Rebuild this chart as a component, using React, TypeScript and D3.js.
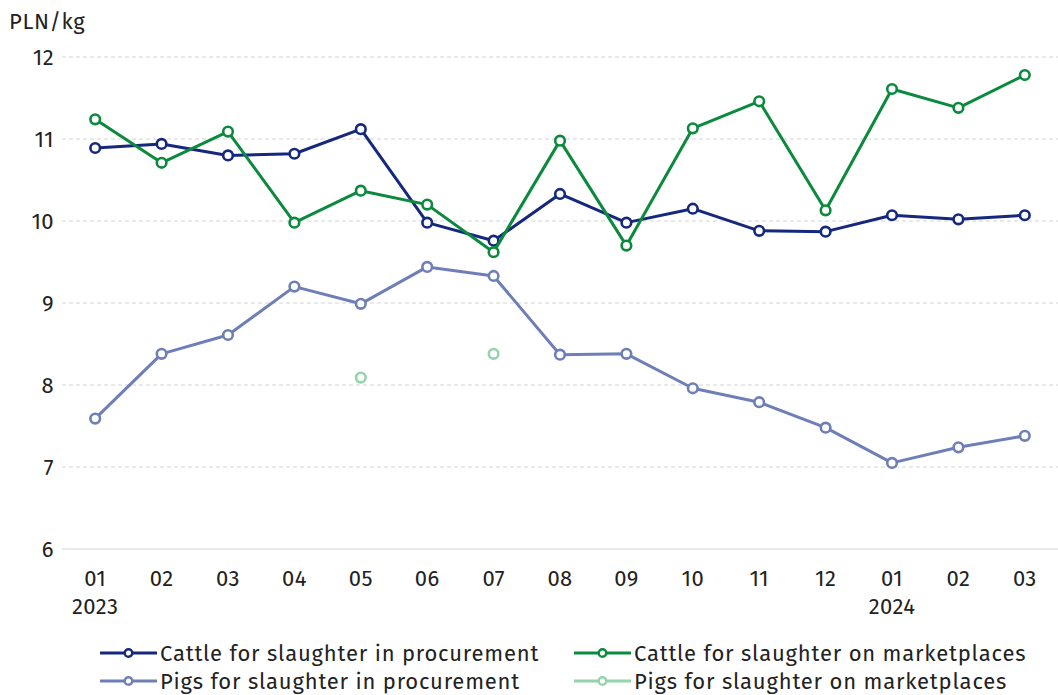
import * as d3 from "d3";

const months = ["01", "02", "03", "04", "05", "06", "07", "08", "09", "10", "11", "12", "01", "02", "03"];
const years = ["2023", "", "", "", "", "", "", "", "", "", "", "", "2024", "", ""];

const cattleProcurement = [10.89, 10.94, 10.8, 10.82, 11.12, 9.98, 9.76, 10.33, 9.98, 10.15, 9.88, 9.87, 10.07, 10.02, 10.07];
const cattleMarket = [11.24, 10.71, 11.09, 9.98, 10.37, 10.2, 9.62, 10.98, 9.7, 11.13, 11.46, 10.13, 11.61, 11.38, 11.78];
const pigsProcurement = [7.59, 8.38, 8.61, 9.2, 8.99, 9.44, 9.33, 8.37, 8.38, 7.96, 7.79, 7.48, 7.05, 7.24, 7.38];
const pigsMarket: (number | null)[] = [null, null, null, null, 8.09, null, 8.38, null, null, null, null, null, null, null, null];

const yTicks = [6, 7, 8, 9, 10, 11, 12];

const series = [
  { name: "Cattle for slaughter in procurement", values: cattleProcurement, color: "#15287e" },
  { name: "Cattle for slaughter on marketplaces", values: cattleMarket, color: "#0b8a3e" },
  { name: "Pigs for slaughter in procurement", values: pigsProcurement, color: "#6e7fb8" },
  { name: "Pigs for slaughter on marketplaces", values: pigsMarket, color: "#94d3ac" },
];

const W = 1058;
const H = 695;
const FONT = "'Fira Sans', 'Noto Sans', sans-serif";

export default function App() {
  const x = d3
    .scaleBand<number>()
    .domain(months.map((_, i) => i))
    .range([62, 1058]);
  const y = d3.scaleLinear().domain([6, 12]).range([549, 57]);
  const cx = (i: number) => (x(i) ?? 0) + x.bandwidth() / 2;

  const line = d3
    .line<number | null>()
    .defined((d) => d !== null)
    .x((_, i) => cx(i))
    .y((d) => y(d as number));

  const legendPos = [
    [100, 653],
    [574, 653],
    [100, 681],
    [574, 681],
  ];

  return (
    <svg width={W} height={H} style={{ position: "absolute", left: 0, top: 0 }} fontFamily={FONT}>
      <text x={9} y={29} fontSize={22} letterSpacing={0.6} fill="#222">
        PLN/kg
      </text>
      {yTicks.map((t) => (
        <g key={t}>
          <line
            x1={62}
            x2={1058}
            y1={y(t)}
            y2={y(t)}
            stroke="#d4d4d4"
            strokeWidth={1}
            strokeDasharray={t === 6 ? undefined : "4,3"}
          />
          <text x={54} y={y(t)} dy="0.35em" textAnchor="end" fontSize={22} letterSpacing={0.4} fill="#222">
            {t}
          </text>
        </g>
      ))}
      {months.map((m, i) => (
        <g key={i}>
          <text x={cx(i)} y={586} textAnchor="middle" fontSize={22} letterSpacing={0.4} fill="#222">
            {m}
          </text>
          {years[i] && (
            <text x={cx(i)} y={614} textAnchor="middle" fontSize={22} letterSpacing={0.4} fill="#222">
              {years[i]}
            </text>
          )}
        </g>
      ))}
      {series.map((s) => (
        <g key={s.name}>
          <path d={line(s.values) ?? ""} fill="none" stroke={s.color} strokeWidth={3} strokeLinejoin="round" />
          {s.values.map((v, i) =>
            v === null ? null : (
              <circle key={i} cx={cx(i)} cy={y(v)} r={4.8} fill="#fff" stroke={s.color} strokeWidth={2.6} />
            )
          )}
        </g>
      ))}
      {series.map((s, k) => {
        const [lx, ly] = legendPos[k];
        return (
          <g key={s.name} transform={`translate(${lx},${ly})`}>
            <line x1={0} x2={57} y1={0} y2={0} stroke={s.color} strokeWidth={3} />
            <circle cx={28.5} cy={0} r={3.8} fill="#fff" stroke={s.color} strokeWidth={2.4} />
            <text x={60} y={0} dy="0.35em" fontSize={22} letterSpacing={0.8} fill="#222">
              {s.name}
            </text>
          </g>
        );
      })}
    </svg>
  );
}
